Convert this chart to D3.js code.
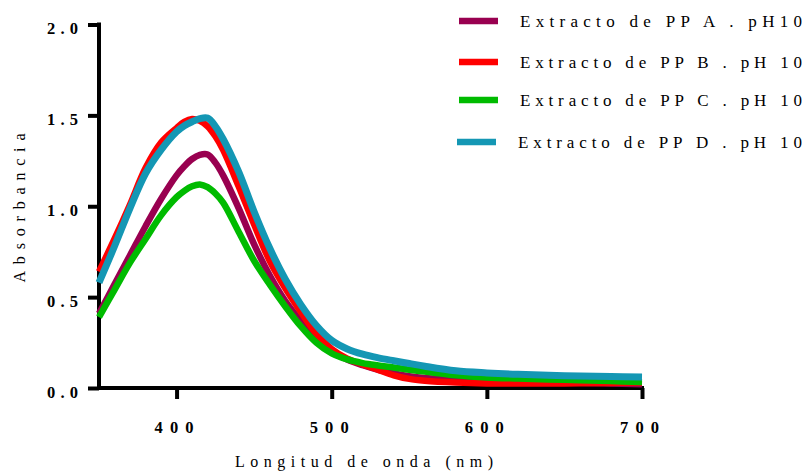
<!DOCTYPE html>
<html><head><meta charset="utf-8">
<script src="https://cdn.jsdelivr.net/npm/d3@7"></script>
<style>
html,body{margin:0;padding:0;background:#fff;}
svg{display:block;}
text{font-family:"Liberation Serif","Times New Roman",serif;fill:#000;}
</style></head>
<body>
<svg id="chart" width="810" height="471"></svg>
<script>
const wavelengths = [350,360,370,380,390,400,405,410,415,420,425,430,440,450,460,470,480,490,500,510,520,530,540,550,560,580,600,620,650,680,700];
const seriesA = [0.41,0.57,0.73,0.89,1.04,1.17,1.22,1.26,1.283,1.285,1.24,1.17,0.99,0.79,0.62,0.48,0.37,0.275,0.205,0.157,0.125,0.10,0.08,0.065,0.055,0.045,0.035,0.03,0.03,0.025,0.02];
const seriesB = [0.64,0.82,1.01,1.21,1.35,1.43,1.465,1.48,1.47,1.44,1.385,1.31,1.11,0.90,0.70,0.55,0.42,0.30,0.215,0.162,0.13,0.10,0.07,0.05,0.04,0.03,0.025,0.025,0.025,0.028,0.03];
const seriesC = [0.39,0.54,0.69,0.82,0.95,1.05,1.085,1.11,1.12,1.105,1.07,1.02,0.86,0.70,0.57,0.45,0.34,0.25,0.19,0.157,0.137,0.124,0.113,0.10,0.09,0.07,0.058,0.052,0.045,0.038,0.033];
const seriesD = [0.58,0.78,0.99,1.18,1.31,1.41,1.443,1.465,1.482,1.485,1.44,1.37,1.19,0.97,0.77,0.60,0.46,0.345,0.262,0.215,0.186,0.166,0.15,0.135,0.12,0.095,0.083,0.075,0.068,0.063,0.06];
const seriesNames = ["Extracto de PP A . pH10","Extracto de PP B . pH 10","Extracto de PP C . pH 10","Extracto de PP D . pH 10"];
const seriesColors = ["#990050","#ff0000","#00bb00","#1497b4"];
const yTicks = [0,0.5,1.0,1.5,2.0];
const xTicks = [400,500,600,700];

const svg = d3.select("#chart");
const x = d3.scaleLinear().domain([350,700]).range([99,642]);
const y = d3.scaleLinear().domain([0,2]).range([388,24.5]);

// axes
const yAxis = d3.axisLeft(y).tickValues(yTicks).tickSize(11).tickPadding(10)
  .tickFormat(d => d3.format(".1f")(d));
const gy = svg.append("g").attr("transform","translate(99,0)").call(yAxis);
gy.select(".domain").attr("stroke","#000").attr("stroke-width",4).attr("d","M0,22.5V390");
gy.selectAll(".tick line").attr("stroke","#000").attr("stroke-width",4);
gy.selectAll(".tick text").attr("font-size","16.5px").attr("font-weight","bold")
  .attr("font-family","Liberation Serif, serif")
  .attr("textLength",31).attr("lengthAdjust","spacing").attr("dy","0.55em");

const xAxis = d3.axisBottom(x).tickValues(xTicks).tickSize(11).tickPadding(22).tickFormat(d3.format("d"));
const gx = svg.append("g").attr("transform","translate(0,388)").call(xAxis);
gx.select(".domain").attr("stroke","#000").attr("stroke-width",4).attr("d","M97,0H644");
gx.selectAll(".tick line").attr("stroke","#000").attr("stroke-width",4);
gx.selectAll(".tick text").attr("font-size","16.5px").attr("font-weight","bold")
  .attr("font-family","Liberation Serif, serif")
  .attr("textLength",39).attr("lengthAdjust","spacing").attr("dx","-3px");

// axis titles
svg.append("text").attr("x",364).attr("y",467).attr("text-anchor","middle")
  .attr("font-size","16px").attr("textLength",258).attr("lengthAdjust","spacing")
  .text("Longitud de onda (nm)");
svg.append("text").attr("transform","translate(25,208) rotate(-90)").attr("text-anchor","middle")
  .attr("font-size","16px").attr("textLength",149).attr("lengthAdjust","spacing")
  .text("Absorbancia");

// lines
const allSeries = [seriesA,seriesB,seriesC,seriesD];
const line = d3.line().x(d=>x(d[0])).y(d=>y(d[1])).curve(d3.curveCatmullRom.alpha(0.5));
allSeries.forEach((s,i)=>{
  const pts = wavelengths.map((w,j)=>[w,s[j]]);
  svg.append("path").datum(pts).attr("d",line).attr("fill","none")
    .attr("stroke",seriesColors[i]).attr("stroke-width", i===3?7:6.5)
    .attr("stroke-linejoin","round");
});

// legend
const legendY = [21,62,100,142];
seriesNames.forEach((n,i)=>{
  const x0 = i===3?457:459;
  const tx = i===3?518:520;
  svg.append("line").attr("x1",x0).attr("x2",x0+39).attr("y1",legendY[i]).attr("y2",legendY[i])
    .attr("stroke",seriesColors[i]).attr("stroke-width",6.5);
  svg.append("text").attr("x",tx).attr("y",legendY[i]+6)
    .attr("font-size","17px").attr("textLength",802-tx).attr("lengthAdjust","spacing").text(n);
});
</script>
</body></html>
